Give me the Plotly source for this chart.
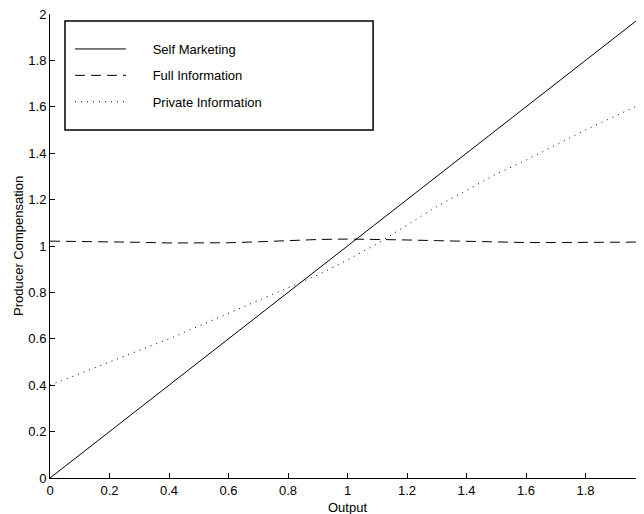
import plotly.graph_objects as go

# ---- data ----
x_vals = [0.0, 0.1, 0.2, 0.3, 0.4, 0.5, 0.6, 0.7, 0.8, 0.9, 1.0, 1.1, 1.2, 1.3, 1.4, 1.5, 1.6, 1.7, 1.8, 1.9, 2.0]
self_marketing = [0.0, 0.1, 0.2, 0.3, 0.4, 0.5, 0.6, 0.7, 0.8, 0.9, 1.0, 1.1, 1.2, 1.3, 1.4, 1.5, 1.6, 1.7, 1.8, 1.9, 2.0]
full_information = [1.021, 1.02, 1.018, 1.016, 1.013, 1.012, 1.014, 1.018, 1.024, 1.028, 1.03, 1.029, 1.026, 1.023, 1.02, 1.017, 1.015, 1.015, 1.015, 1.016, 1.017]
private_information = [0.40, 0.45, 0.50, 0.55, 0.60, 0.655, 0.71, 0.765, 0.82, 0.875, 0.94, 1.01, 1.09, 1.17, 1.24, 1.31, 1.37, 1.435, 1.50, 1.56, 1.62]

tick_vals = [0, 0.2, 0.4, 0.6, 0.8, 1.0, 1.2, 1.4, 1.6, 1.8, 2.0]
tick_text = ["0", "0.2", "0.4", "0.6", "0.8", "1", "1.2", "1.4", "1.6", "1.8", "2"]

series_names = ["Self Marketing", "Full Information", "Private Information"]
x_title = "Output"
y_title = "Producer Compensation"

FONT = "Liberation Sans, Arial, Helvetica, sans-serif"
PAD = "\u00a0" * 6

fig = go.Figure()
fig.add_trace(go.Scatter(x=x_vals, y=self_marketing, mode="lines", name=PAD + series_names[0],
                         legendgroup="a", line=dict(color="black", width=1)))
fig.add_trace(go.Scatter(x=x_vals, y=full_information, mode="lines", name=PAD + series_names[1],
                         legendgroup="b", line=dict(color="black", width=1, dash="10px,6px")))
fig.add_trace(go.Scatter(x=x_vals, y=private_information, mode="lines", name=PAD + series_names[2],
                         legendgroup="c", line=dict(color="black", width=1, dash="1px,5px")))

axis_common = dict(
    range=[0, 2], tickmode="array", tickvals=tick_vals, ticktext=tick_text,
    ticks="inside", ticklen=5, tickcolor="black", tickwidth=1,
    showline=True, linecolor="black", linewidth=1, mirror=False,
    showgrid=False, zeroline=False, automargin=False,
    ticklabeloverflow="allow",
    tickfont=dict(family=FONT, size=13, color="black"),
)

fig.update_layout(
    width=644, height=514,
    margin=dict(l=42, r=7, t=6, b=44),
    paper_bgcolor="white", plot_bgcolor="white",
    font=dict(family=FONT, size=13, color="black"),
    xaxis=dict(axis_common),
    yaxis=dict(axis_common),
    showlegend=True,
    legend=dict(x=0.0336, y=0.9569, xanchor="left", yanchor="top",
                bgcolor="rgba(0,0,0,0)", borderwidth=0,
                itemwidth=51, tracegroupgap=6.5,
                font=dict(family=FONT, size=13, color="black")),
    shapes=[dict(type="rect", xref="paper", yref="paper",
                 x0=0.0252, x1=0.543, y0=0.750, y1=0.985,
                 line=dict(color="black", width=1.5), fillcolor="rgba(0,0,0,0)")],
    annotations=[
        dict(text=x_title, xref="paper", yref="paper", x=0.5, y=-0.0625,
             xanchor="center", yanchor="middle", showarrow=False,
             font=dict(family=FONT, size=13, color="black")),
        dict(text=y_title, xref="paper", yref="paper", x=-0.0538, y=0.5,
             xanchor="center", yanchor="middle", textangle=-90, showarrow=False,
             font=dict(family=FONT, size=13, color="black")),
    ],
)

fig.write_html("out.html")
